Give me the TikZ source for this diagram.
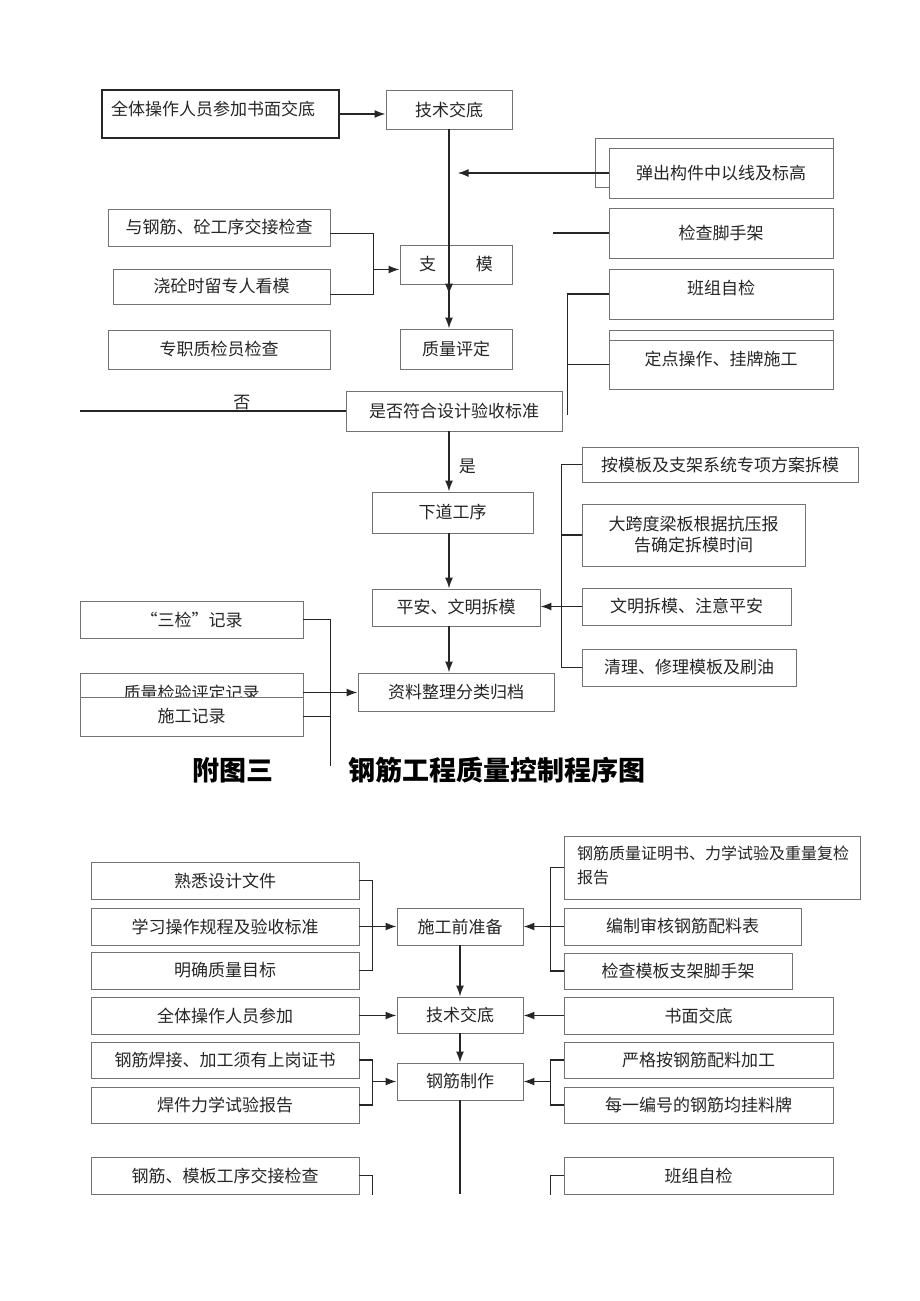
\documentclass[tikz,border=0pt]{standalone}
\usepackage{fontspec}
\setmainfont{Noto Sans CJK SC}
\usetikzlibrary{calc, arrows.meta, decorations.markings}

\begin{document}
\begin{tikzpicture}[x=1pt, y=-1pt,
    bx/.style={draw=black!55, line width=0.9pt, fill=white, inner sep=0pt, text=black!85, font=\fontsize{17}{21}\selectfont},
    tx/.style={inner sep=0pt, text=black!85, font=\fontsize{17}{21}\selectfont},
    ln/.style={line width=1.6pt, draw=black!85},
    arr/.style={ln, -{Latex[length=11pt, width=8pt]}}]
    \useasboundingbox (0,0) rectangle (920,1301);
    % upper chart
    \node[bx, draw=black!85, line width=1.4pt, minimum width=237, minimum height=48] (qtcz) at (220.5,114) {};
    \node[tx] (qtczt) at (213,109) {全体操作人员参加书面交底};
    \node[bx, minimum width=126, minimum height=39] (jsjd) at (449,109.5) {技术交底};
    \draw[black!55, line width=0.9pt] (595,138) rectangle (833,187);
    \node[bx, minimum width=224, minimum height=50] (tcgj) at (721,173) {弹出构件中以线及标高};
    \node[bx, minimum width=224, minimum height=50] (jcjsj) at (721,233) {检查脚手架};
    \node[bx, minimum width=224, minimum height=50] (bzzj) at (721,294) {};
    \node[tx] (bzzjt) at (721,288) {班组自检};
    \node[bx, minimum width=224, minimum height=59] (ddcz) at (721,359.5) {定点操作、挂牌施工};
    \draw[black!55, line width=0.9pt] ($(ddcz.north west)+(0,11)$) -- ($(ddcz.north east)+(0,11)$);
    \node[bx, minimum width=222, minimum height=37] (ygj) at (219,227.5) {与钢筋、砼工序交接检查};
    \node[bx, minimum width=217, minimum height=35] (jtsl) at (221.5,286.5) {浇砼时留专人看模};
    \node[bx, minimum width=222, minimum height=39] (zzzj) at (219,349.5) {专职质检员检查};
    \node[bx, minimum width=112, minimum height=39] (zhimo) at (456,264.5) {支\hspace{2.35em}模};
    \node[bx, minimum width=112, minimum height=40] (zlpd) at (456,349) {质量评定};
    \node[bx, minimum width=216, minimum height=40] (sfhf) at (454,411) {是否符合设计验收标准};
    \node[bx, minimum width=161, minimum height=41] (xdgx) at (452.5,512.5) {下道工序};
    \node[bx, minimum width=168, minimum height=37] (pawm) at (456,607.5) {平安、文明拆模};
    \node[bx, minimum width=276, minimum height=35] (amb) at (720,464.5) {按模板及支架系统专项方案拆模};
    \node[bx, minimum width=223, minimum height=62, align=center] (dkd) at (693.5,535) {大跨度梁板根据抗压报\\告确定拆模时间};
    \node[bx, minimum width=209, minimum height=37] (wmcm) at (686.5,606.5) {文明拆模、注意平安};
    \node[bx, minimum width=214, minimum height=37] (qlxl) at (689,667.5) {清理、修理模板及刷油};
    \node[bx, minimum width=196, minimum height=38] (zlzl) at (456,692) {资料整理分类归档};
    \node[bx, minimum width=223, minimum height=37] (sjjl) at (191.5,619.5) {“三检”记录};
    \node[bx, minimum width=223, minimum height=39] (zljy) at (191.5,692.5) {质量检验评定记录};
    \node[bx, minimum width=223, minimum height=39] (sgjl) at (191.5,716.5) {施工记录};
    \coordinate (fou) at (80,411);

    \draw[arr] (qtcz.east) -- (qtcz.east -| jsjd.west);
    \draw[arr, postaction={decorate}, decoration={markings,
    mark=at position 0.83 with {\arrow{Latex[length=11pt, width=8pt]}}}] (jsjd.south) -- (jsjd.south |- zlpd.north);
    \draw[arr] (tcgj.west) -- ++(-151,0);
    \draw[ln] (jcjsj.west) -- ++(-56,0);
    \draw[ln] (bzzj.west) -- ++(-41,0) coordinate (bz1) -- ++(0,121);
    \draw[ln] ($(ddcz.west)+(0,5)$) -- ++(-41,0);
    \draw[ln] ($(ygj.east)+(0,6)$) -- ++(43,0) coordinate (zm1) |- ($(jtsl.east)+(0,8)$);
    \draw[arr] ($(zm1 |- zhimo.west)+(0,5)$) -- ($(zhimo.west)+(0,5)$);
    \draw[ln] (sfhf.west) -- (fou) node[pos=0.39, above, inner sep=1pt, tx] (foul) {否};
    \draw[arr] (jsjd.south |- sfhf.south) -- (jsjd.south |- xdgx.north) node[pos=0.58, right=9pt, tx] (shil) {是};
    \draw[arr] (jsjd.south |- xdgx.south) -- (jsjd.south |- pawm.north);
    \draw[arr] (jsjd.south |- pawm.south) -- (jsjd.south |- zlzl.north);
    \draw[ln] (amb.west) -- ++(-20,0) coordinate (am1) |- (qlxl.west);
    \draw[ln] (dkd.west) -- (am1 |- dkd.west);
    \draw[arr] (wmcm.west) -- (wmcm.west -| pawm.east);
    \draw[ln] (sjjl.east) -- ++(27,0) coordinate (sj1) -- ++(0,146);
    \draw[ln] (sgjl.east) -- (sj1 |- sgjl.east);
    \draw[arr] (zljy.east) -- (zljy.east -| zlzl.west);

    % title
    \node[inner sep=0pt, font=\fontsize{27}{30}\selectfont\bfseries] (fut) at (233,770) {附图三};
    \node[inner sep=0pt, font=\fontsize{27}{30}\selectfont\bfseries] (titl) at (497,770) {钢筋工程质量控制程序图};

    % lower chart
    \node[bx, minimum width=268, minimum height=37] (sxsj) at (225,880.5) {熟悉设计文件};
    \node[bx, minimum width=268, minimum height=37] (xxcz) at (225,926.5) {学习操作规程及验收标准};
    \node[bx, minimum width=268, minimum height=37] (mqzl) at (225,970.5) {明确质量目标};
    \node[bx, minimum width=126, minimum height=37] (sgqzb) at (460,926.5) {施工前准备};
    \node[bx, minimum width=268, minimum height=37] (qtcj) at (225,1015.5) {全体操作人员参加};
    \node[bx, minimum width=126, minimum height=36] (jsjd2) at (460,1015) {技术交底};
    \node[bx, minimum width=268, minimum height=36] (gjhj) at (225,1060) {钢筋焊接、加工须有上岗证书};
    \node[bx, minimum width=268, minimum height=36] (hjlx) at (225,1105) {焊件力学试验报告};
    \node[bx, minimum width=126, minimum height=37] (gjzz) at (460,1081.5) {钢筋制作};
    \node[bx, minimum width=268, minimum height=37] (gjmb) at (225,1175.5) {钢筋、模板工序交接检查};
    \node[bx, minimum width=296, minimum height=63] (gjzl) at (712,867.5) {};
    \node[tx, align=left, anchor=north west, font=\fontsize{16}{24}\selectfont] (gjzlt) at (577,846) {钢筋质量证明书、力学试验及重量复检\\报告};
    \node[bx, minimum width=237, minimum height=37] (bzsh) at (682.5,926.5) {编制审核钢筋配料表};
    \node[bx, minimum width=228, minimum height=36] (jcmb) at (678,971) {检查模板支架脚手架};
    \node[bx, minimum width=269, minimum height=37] (smjd) at (698.5,1015.5) {书面交底};
    \node[bx, minimum width=269, minimum height=36] (ygan) at (698.5,1060) {严格按钢筋配料加工};
    \node[bx, minimum width=269, minimum height=36] (mybh) at (698.5,1105) {每一编号的钢筋均挂料牌};
    \node[bx, minimum width=269, minimum height=37] (bzzj2) at (698.5,1175.5) {班组自检};

    \draw[ln] (sxsj.east) -- ++(13,0) coordinate (sx1) |- (mqzl.east);
    \draw[arr] (xxcz.east) -- (sgqzb.west);
    \draw[ln] (gjzl.west) -- ++(-13,0) coordinate (gz1) |- (jcmb.west);
    \draw[arr] (bzsh.west) -- (sgqzb.east);
    \draw[arr] (qtcj.east) -- (qtcj.east -| jsjd2.west);
    \draw[arr] (smjd.west) -- (smjd.west -| jsjd2.east);
    \draw[ln] (gjhj.east) -- ++(13,0) coordinate (gh1) |- (hjlx.east);
    \draw[arr] (gh1 |- gjzz.west) -- (gjzz.west);
    \draw[ln] (ygan.west) -- ++(-13,0) coordinate (yg1) |- (mybh.west);
    \draw[arr] (yg1 |- gjzz.east) -- (gjzz.east);
    \draw[arr] (sgqzb.south) -- (jsjd2.north);
    \draw[arr] (jsjd2.south) -- (gjzz.north);
    \draw[ln] (gjzz.south) -- ++(0,94);
    \draw[ln] (gjmb.east) -- ++(13,0) -- ++(0,19);
    \draw[ln] (bzzj2.west) -- ++(-13,0) -- ++(0,19);
\end{tikzpicture}
\end{document}
